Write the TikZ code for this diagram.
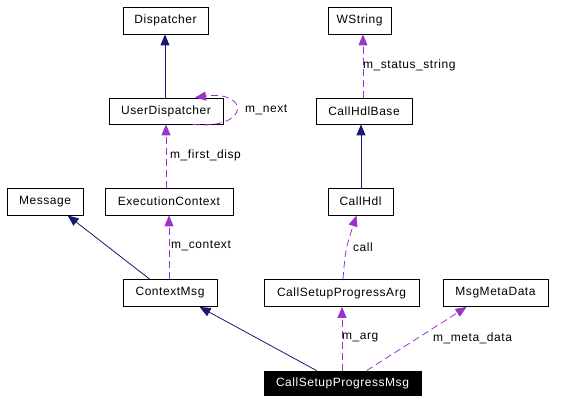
\documentclass[tikz,border=0pt]{standalone}
\usepackage{fontspec}
\setmainfont{Liberation Sans}[LetterSpace=4.5]
\usetikzlibrary{arrows.meta,calc}
\definecolor{navyc}{HTML}{191970}
\definecolor{purp}{HTML}{9A32CD}
\begin{document}
\begin{tikzpicture}[x=1pt,y=-1pt,
  cls/.style={draw=black,fill=white,line width=0.8pt,inner sep=0pt,font=\fontsize{12}{14}\selectfont,minimum height=27pt},
  cur/.style={cls,fill=black,text=white},
  inh/.style={draw=navyc,line width=0.8pt,arrows={-{Triangle[fill=navyc,length=11pt,width=9pt]}}},
  use/.style={draw=purp,line width=0.8pt,dash pattern=on 7pt off 4pt,arrows={-{Triangle[fill=purp,length=11pt,width=9pt]}}},
  lbl/.style={font=\fontsize{12}{14}\selectfont,anchor=west,inner sep=0pt}]
\useasboundingbox (0,0) rectangle (584,403);
\node[cls,minimum width=85pt] (disp) at (165.5,20.5) {Dispatcher};
\node[cls,minimum width=114pt,minimum height=26pt] (ud) at (166,111) {UserDispatcher};
\node[cls,minimum width=63pt] (ws) at (359.5,20.5) {WString};
\node[cls,minimum width=96pt,minimum height=26pt] (chb) at (364,111) {CallHdlBase};
\node[cls,minimum width=76pt] (msg) at (45,201.5) {Message};
\node[cls,minimum width=128pt] (ec) at (169,201.5) {ExecutionContext};
\node[cls,minimum width=65pt] (ch) at (360.5,201.5) {CallHdl};
\node[cls,minimum width=94pt] (cm) at (170,293) {ContextMsg};
\node[cls,minimum width=155pt] (cspa) at (341.5,293) {CallSetupProgressArg};
\node[cls,minimum width=105pt] (mmd) at (495.5,293) {MsgMetaData};
\node[cur,minimum width=157pt,minimum height=24pt] (cspm) at (342.5,383) {CallSetupProgressMsg};
% inheritance
\draw[inh] ($(ud.north)+(-1,0)$) -- ($(disp.south)+(-0.5,0)$);
\draw[inh] ($(ch.north)+(0.5,0)$) -- ($(chb.south)+(-3,0)$);
\draw[inh] ($(cm.north west)+(27,0)$) -- ($(msg.south west)+(61,0)$);
\draw[inh] ($(cspm.north west)+(53,0)$) -- ($(cm.south west)+(77,0)$);
% usage
\draw[use] ($(ud.south)+(27,0)$) .. controls (250,130) and (250,90) .. ($(ud.north)+(29,0)$);
\node[lbl] (lnext) at (245,110) {m\_next};
\draw[use] (ec.north -| ud.south) -- (ud.south);
\node[lbl] (lfirst) at (170,155) {m\_first\_disp};
\draw[use] ($(chb.north)+(-1,0)$) -- ($(ws.south)+(3.5,0)$);
\node[lbl] (lstat) at (363,65) {m\_status\_string};
\draw[use] ($(cm.north)+(-1,0)$) -- (ec.south);
\node[lbl] (lctx) at (171,246) {m\_context};
\draw[use] ($(cspa.north)+(1.5,0)$) .. controls ($(cspa.north)+(4,-30)$) .. ($(ch.south)+(-4,0)$);
\node[lbl] (lcall) at (353,247) {call};
\draw[use] ($(cspm.north)+(-0.5,0)$) -- ($(cspa.south)+(0.5,0)$);
\node[lbl] (larg) at (342,338) {m\_arg};
\draw[use] ($(cspm.north west)+(103,0)$) -- ($(mmd.south west)+(24,0)$);
\node[lbl] (lmeta) at (433,338) {m\_meta\_data};
\end{tikzpicture}
\end{document}
